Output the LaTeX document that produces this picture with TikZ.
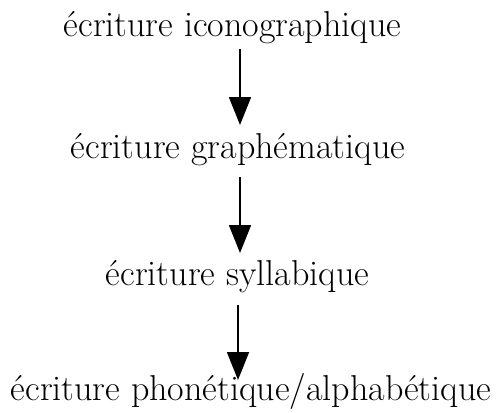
\documentclass[tikz,border=0pt]{standalone}
\usetikzlibrary{arrows.meta}
\begin{document}
\begin{tikzpicture}[x=1pt,y=-1pt,
  lbl/.style={inner sep=0pt,anchor=base,font=\fontsize{36}{42}\selectfont},
  arr/.style={line width=1.7pt,-{Triangle[width=22pt,length=28pt]}}]
\useasboundingbox (0,0) rectangle (497,412);
\node[lbl] (a) at (232.5,37) {écriture iconographique};
\node[lbl] (b) at (238,158) {écriture graphématique};
\node[lbl] (c) at (237.5,285) {écriture syllabique};
\node[lbl] (d) at (251,400) {écriture phonétique/alphabétique};
\draw[arr] ([xshift=7.5pt,yshift=-12pt]a.base) -- ([xshift=2pt,yshift=33pt]b.base);
\draw[arr] ([xshift=2pt,yshift=-19pt]b.base) -- ([xshift=2.5pt,yshift=32pt]c.base);
\draw[arr] ([xshift=0.5pt,yshift=-20pt]c.base) -- ([xshift=-13pt,yshift=20pt]d.base);
\end{tikzpicture}
\end{document}
